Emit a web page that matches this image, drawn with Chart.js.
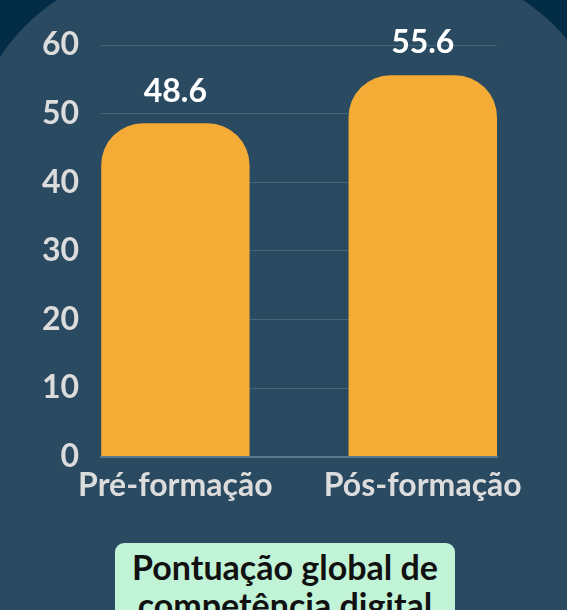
<!DOCTYPE html>
<html lang="pt">
<head>
<meta charset="UTF-8">
<title>Pontuação global de competência digital</title>
<script src="https://cdn.jsdelivr.net/npm/chart.js@4"></script>
<style>
  html, body { margin: 0; padding: 0; }
  body { width: 567px; height: 610px; background: #032c46; position: relative; overflow: hidden; font-family: Lato, sans-serif; }
  .panel { position: absolute; left: -33px; top: -33px; right: -46px; bottom: -60px; background: #294a60;
           border-top-left-radius: 200px; border-top-right-radius: 200px; }
  #chart { position: absolute; left: 0; top: 0; }
  .title-box { position: absolute; left: 115px; top: 543px; width: 340px; height: 120px; background: #c1f4d6;
               border-radius: 9px; text-align: center; color: #111; font-weight: bold; font-size: 34px;
               line-height: 38px; padding-top: 5px; box-sizing: border-box; }
</style>
</head>
<body>
<div class="panel"></div>
<canvas id="chart" width="567" height="530"></canvas>
<div class="title-box">Pontuação global de<br>competência digital</div>

<script>
const categories = ["Pré-formação", "Pós-formação"];
const scores = [48.6, 55.6];
const yTicks = [0, 10, 20, 30, 40, 50, 60];

// rótulos de valor por cima das barras
const valueLabels = {
  id: 'valueLabels',
  afterDatasetsDraw(chart) {
    const ctx = chart.ctx;
    const meta = chart.getDatasetMeta(0);
    ctx.save();
    ctx.fillStyle = '#ffffff';
    ctx.font = 'bold 32px Lato';
    ctx.textAlign = 'center';
    ctx.textBaseline = 'middle';
    meta.data.forEach((bar, i) => {
      ctx.fillText(scores[i].toFixed(1), bar.x, bar.y - 32);
    });
    ctx.restore();
  }
};

const ctx = document.getElementById('chart').getContext('2d');
new Chart(ctx, {
  type: 'bar',
  data: {
    datasets: [{
      data: scores.map((v, i) => ({ x: i, y: v })),
      backgroundColor: '#f4ac36',
      borderRadius: { topLeft: 42, topRight: 42, bottomLeft: 0, bottomRight: 0 },
      borderSkipped: false,
      categoryPercentage: 1,
      barPercentage: 0.6
    }]
  },
  plugins: [valueLabels],
  options: {
    responsive: false,
    animation: false,
    layout: { padding: { left: 20, right: 70, top: 45, bottom: 23 } },
    plugins: { legend: { display: false }, tooltip: { enabled: false } },
    scales: {
      x: {
        type: 'linear',
        offset: false,
        min: -0.3,
        max: 1.3,
        afterBuildTicks: (scale) => { scale.ticks = categories.map((c, i) => ({ value: i })); },
        ticks: {
          callback: (v) => categories[v],
          color: '#dcdcdc',
          font: { family: 'Lato', size: 32, weight: 'bold' },
          padding: 2,
          maxRotation: 0,
          autoSkip: false
        },
        grid: { display: false, offset: false },
        border: { display: true, color: '#5d7a8e', width: 2 }
      },
      y: {
        min: 0,
        max: 60,
        afterBuildTicks: (scale) => { scale.ticks = yTicks.map(v => ({ value: v })); },
        ticks: {
          color: '#dcdcdc',
          font: { family: 'Lato', size: 32, weight: 'bold' },
          padding: 22
        },
        grid: { color: '#46657a', lineWidth: 1, drawTicks: false },
        border: { display: false }
      }
    }
  }
});
</script>
</body>
</html>
